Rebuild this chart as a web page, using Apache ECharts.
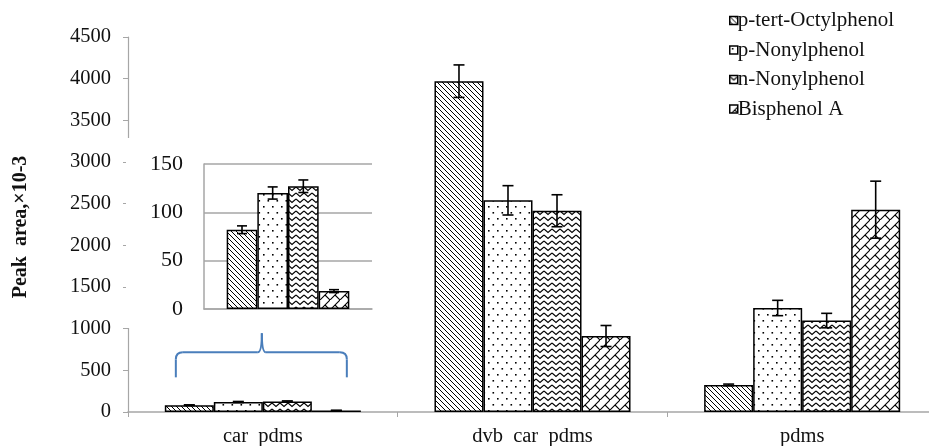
<!DOCTYPE html>
<html>
<head>
<meta charset="utf-8">
<script src="https://cdn.jsdelivr.net/npm/echarts@6/dist/echarts.min.js"></script>
<style>
html,body{margin:0;padding:0;background:#fff;}
#c{width:929px;height:446px;}
</style>
</head>
<body>
<div id="c"></div>
<script>
// ---------- data ----------
const categories = ['car  pdms', 'dvb  car  pdms', 'pdms'];
const seriesNames = ['p-tert-Octylphenol', 'p-Nonylphenol', 'n-Nonylphenol', 'Bisphenol A'];
const octylphenol = [82, 3970, 325];
const octylphenolErr = [4, 195, 10];
const pNonylphenol = [120, 2540, 1248];
const pNonylphenolErr = [6.3, 176, 92];
const nNonylphenol = [127, 2415, 1097];
const nNonylphenolErr = [6.5, 192, 87];
const bisphenolA = [18.5, 912, 2428];
const bisphenolAErr = [1.5, 126, 342];
const mainTicks = [0, 500, 1000, 1500, 2000, 2500, 3000, 3500, 4000, 4500];
const insetTicks = [0, 50, 100, 150];
const insetCategory = [categories[0]];

const values = [octylphenol, pNonylphenol, nNonylphenol, bisphenolA];
const errors = [octylphenolErr, pNonylphenolErr, nNonylphenolErr, bisphenolAErr];

// ---------- patterns ----------
function tile(w, h, draw) {
  const c = document.createElement('canvas');
  c.width = w; c.height = h;
  const g = c.getContext('2d');
  g.fillStyle = '#fff'; g.fillRect(0, 0, w, h);
  g.strokeStyle = '#000'; g.fillStyle = '#000'; g.lineWidth = 1;
  draw(g, w, h);
  return {image: c, repeat: 'repeat'};
}
const patDiag = tile(5, 5, (g, s) => {
  g.beginPath();
  g.moveTo(-1, -1); g.lineTo(s + 1, s + 1);
  g.moveTo(s - 1, -1); g.lineTo(s + 1, 1);
  g.moveTo(-1, s - 1); g.lineTo(1, s + 1);
  g.stroke();
});
const patDots = tile(9, 12, (g) => {
  g.fillRect(2, 2, 1.6, 1.6);
  g.fillRect(6.5, 8, 1.6, 1.6);
});
const patZig = tile(8, 6, (g) => {
  g.lineWidth = 1.1;
  g.beginPath();
  g.moveTo(0, 1); g.lineTo(4, 4.5); g.lineTo(8, 1);
  g.stroke();
});
const patBrick = tile(10, 10, (g, s) => {
  g.lineWidth = 1.1;
  g.beginPath();
  g.moveTo(-1, s + 1); g.lineTo(s + 1, -1);
  g.moveTo(s / 2, s / 2); g.lineTo(s + 0.5, s + 0.5);
  g.stroke();
});
const patterns = [patDiag, patDots, patZig, patBrick];

// ---------- chart ----------
const font = "'Liberation Serif','Times New Roman',serif";
const gapPct = 0.273;
const chart = echarts.init(document.getElementById('c'));

function errSeries(si, axisIdx, nPoints, capHalf, gp) {
  const data = [];
  for (let i = 0; i < nPoints; i++) {
    data.push([i, values[si][i] - errors[si][i], values[si][i] + errors[si][i]]);
  }
  return {
    type: 'custom', name: 'err' + axisIdx + '_' + si,
    xAxisIndex: axisIdx, yAxisIndex: axisIdx, z: 5,
    data: data,
    encode: {x: 0, y: [1, 2]},
    renderItem: function (params, api) {
      const xi = api.value(0);
      const lo = api.coord([xi, api.value(1)]);
      const hi = api.coord([xi, api.value(2)]);
      const band = api.size([1, 0])[0];
      const barW = band * (1 - gp) / 4;
      const cx = lo[0] + (si - 1.5) * barW;
      const st = {stroke: '#000', lineWidth: 1.6};
      return {
        type: 'group', children: [
          {type: 'line', shape: {x1: cx, y1: lo[1], x2: cx, y2: hi[1]}, style: st},
          {type: 'line', shape: {x1: cx - capHalf, y1: lo[1], x2: cx + capHalf, y2: lo[1]}, style: st},
          {type: 'line', shape: {x1: cx - capHalf, y1: hi[1], x2: cx + capHalf, y2: hi[1]}, style: st}
        ]
      };
    }
  };
}

const series = [];
for (let si = 0; si < 4; si++) {
  series.push({
    type: 'bar', name: seriesNames[si], xAxisIndex: 0, yAxisIndex: 0,
    data: values[si], barGap: '0%', barCategoryGap: (gapPct * 100) + '%',
    itemStyle: {color: patterns[si], borderColor: '#000', borderWidth: 1.5},
    emphasis: {disabled: true}, animation: false
  });
}
for (let si = 0; si < 4; si++) series.push(errSeries(si, 0, 3, 5.5, gapPct));
for (let si = 0; si < 4; si++) {
  series.push({
    type: 'bar', name: seriesNames[si], xAxisIndex: 1, yAxisIndex: 1, z: 4,
    data: values[si].slice(0, 1), barGap: '0%', barCategoryGap: '27%',
    itemStyle: {color: patterns[si], borderColor: '#000', borderWidth: 1.5},
    emphasis: {disabled: true}, animation: false
  });
}
for (let si = 0; si < 4; si++) series.push(errSeries(si, 1, 1, 5, 0.27));

const axisGray = '#a6a6a6';
chart.setOption({
  animation: false,
  backgroundColor: '#fff',
  grid: [
    {left: 128, right: -8, top: 37, bottom: 34, containLabel: false, outerBoundsMode: 'none'},
    {left: 204, width: 168, top: 164, height: 145, containLabel: false, outerBoundsMode: 'none'}
  ],
  legend: {
    data: seriesNames, orient: 'vertical', left: 724, top: 5,
    itemWidth: 8, itemHeight: 8, itemGap: 8.5, icon: 'rect',
    itemStyle: {borderColor: '#000', borderWidth: 1.5},
    textStyle: {fontFamily: font, fontSize: 21, color: '#111', padding: [0, 0, 0, -5], lineHeight: 19},
    selectedMode: false
  },
  xAxis: [
    {type: 'category', gridIndex: 0, data: categories,
     axisLine: {lineStyle: {color: axisGray, width: 1.5}},
     axisTick: {show: true, length: 5, lineStyle: {color: axisGray}},
     axisLabel: {fontFamily: font, fontSize: 20.5, color: '#111', margin: 14}},
    {type: 'category', gridIndex: 1, data: insetCategory, z: 3,
     axisLine: {lineStyle: {color: axisGray, width: 1.5}},
     axisTick: {show: false}, axisLabel: {show: false}}
  ],
  yAxis: [
    {type: 'value', gridIndex: 0, min: mainTicks[0], max: mainTicks[mainTicks.length - 1],
     interval: mainTicks[1] - mainTicks[0],
     axisLine: {show: true, lineStyle: {color: axisGray, width: 1.2}},
     axisTick: {show: true, length: 5, lineStyle: {color: axisGray}},
     splitLine: {show: false},
     axisLabel: {fontFamily: font, fontSize: 20.5, color: '#111', margin: 17, formatter: v => String(v)}},
    {type: 'value', gridIndex: 1, min: insetTicks[0], max: insetTicks[insetTicks.length - 1],
     interval: insetTicks[1] - insetTicks[0], z: 3,
     axisLine: {show: true, lineStyle: {color: axisGray, width: 1.5}},
     axisTick: {show: false},
     splitLine: {show: true, lineStyle: {color: axisGray, width: 1.5}},
     axisLabel: {fontFamily: font, fontSize: 22, color: '#111', margin: 21, formatter: v => String(v)}}
  ],
  series: series
});

// annotations: cover behind inset, bracket, y title
const c0 = chart.convertToPixel({xAxisIndex: 0}, 0);
const yPix = v => chart.convertToPixel({yAxisIndex: 0}, v);
const bx0 = c0 - 87, bx1 = c0 + 84, bc = c0 - 1;
const yH = yPix(716), yB = yPix(416), yT = yPix(944);
const r = 7;
const bst = {stroke: '#4a7ebb', lineWidth: 2, fill: null};
const braceParts = [
  {type: 'line', shape: {x1: bx0, y1: yB, x2: bx0, y2: yH + r}},
  {type: 'bezierCurve', shape: {x1: bx0, y1: yH + r, cpx1: bx0, cpy1: yH, x2: bx0 + r, y2: yH}},
  {type: 'line', shape: {x1: bx0 + r, y1: yH, x2: bc - 4, y2: yH}},
  {type: 'bezierCurve', shape: {x1: bc - 4, y1: yH, cpx1: bc, cpy1: yH, x2: bc, y2: yT}},
  {type: 'bezierCurve', shape: {x1: bc, y1: yT, cpx1: bc, cpy1: yH, x2: bc + 4, y2: yH}},
  {type: 'line', shape: {x1: bc + 4, y1: yH, x2: bx1 - r, y2: yH}},
  {type: 'bezierCurve', shape: {x1: bx1 - r, y1: yH, cpx1: bx1, cpy1: yH, x2: bx1, y2: yH + r}},
  {type: 'line', shape: {x1: bx1, y1: yH + r, x2: bx1, y2: yB}}
].map(p => Object.assign(p, {style: bst, z: 10, silent: true}));

chart.setOption({
  graphic: [
    {type: 'rect', z: 1, silent: true, shape: {x: 126, y: 138, width: 260, height: 190}, style: {fill: '#fff'}},
    {type: 'group', z: 10, children: braceParts},
    {type: 'text', z: 10, x: 21, y: 227, rotation: Math.PI / 2, silent: true,
     style: {text: 'Peak  area,×10-3', font: "bold 20px 'Liberation Serif','Times New Roman',serif",
             fill: '#111', align: 'center', verticalAlign: 'middle'}}
  ]
});
</script>
</body>
</html>
